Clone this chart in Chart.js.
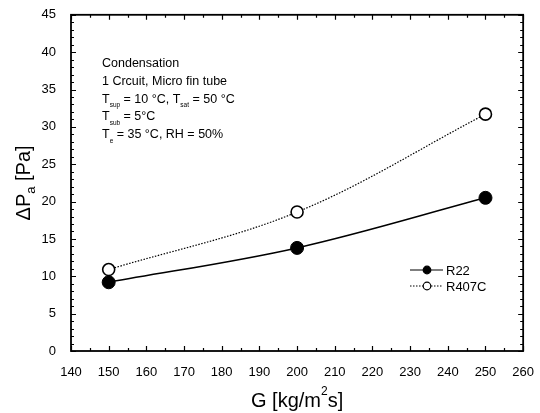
<!DOCTYPE html>
<html>
<head>
<meta charset="utf-8">
<script src="https://cdn.jsdelivr.net/npm/chart.js@4/dist/chart.umd.min.js"></script>
<style>
  html, body { margin: 0; padding: 0; background: #fff; }
  #wrap { width: 540px; height: 413px; }
</style>
</head>
<body>
<div id="wrap"><canvas id="dpChart" width="540" height="413"></canvas></div>
<script>
// mass flux G [kg/m2s]
const massFlux = [150, 200, 250];
// air-side pressure drop [Pa]
const dpR22 = [9.2, 13.8, 20.5];
const dpR407C = [10.9, 18.6, 31.7];

const xTicks = { min: 140, max: 260, step: 10, minor: 5 };
const yTicks = { min: 0, max: 45, step: 5, minor: 1 };

const noteLines = [
    [['Condensation']],
    [['1 Crcuit, Micro fin tube']],
    [['T'], ['sup', 1], [' = 10 °C, T'], ['sat', 1], [' = 50 °C']],
    [['T'], ['sub', 1], [' = 5°C']],
    [['T'], ['e', 1], [' = 35 °C, RH = 50%']],
];

const FONT = 'Arial, "Liberation Sans", sans-serif';

function toPoints(xs, ys) {
    return xs.map((x, i) => ({ x: x, y: ys[i] }));
}

// draws a run of text pieces, pieces flagged 1 are subscripts, 2 superscripts
function drawRich(ctx, x, y, parts, size, subSize) {
    let cx = x;
    parts.forEach(p => {
        const small = p[1];
        ctx.font = (small ? subSize : size) + 'px ' + FONT;
        let dy = 0;
        if (small === 1) dy = size * 0.35;
        if (small === 2) dy = -size * 0.45;
        ctx.fillText(p[0], cx, y + dy);
        cx += ctx.measureText(p[0]).width;
    });
    return cx - x;
}

function richWidth(ctx, parts, size, subSize) {
    let w = 0;
    parts.forEach(p => {
        ctx.font = (p[1] ? subSize : size) + 'px ' + FONT;
        w += ctx.measureText(p[0]).width;
    });
    return w;
}

const framePlugin = {
    id: 'frame',
    afterDraw(chart) {
        const ctx = chart.ctx;
        const a = chart.chartArea;
        const xs = chart.scales.x;
        const ys = chart.scales.y;
        ctx.save();
        ctx.strokeStyle = '#000';
        ctx.fillStyle = '#000';

        // inward ticks on all four sides
        ctx.lineWidth = 1.2;
        ctx.beginPath();
        for (let v = xTicks.min; v <= xTicks.max; v += xTicks.minor) {
            const px = Math.round(xs.getPixelForValue(v)) + 0.5;
            const len = (v - xTicks.min) % xTicks.step === 0 ? 5 : 3;
            ctx.moveTo(px, a.bottom); ctx.lineTo(px, a.bottom - len);
            ctx.moveTo(px, a.top); ctx.lineTo(px, a.top + len);
        }
        for (let v = yTicks.min; v <= yTicks.max; v += yTicks.minor) {
            const py = Math.round(ys.getPixelForValue(v)) + 0.5;
            const len = (v - yTicks.min) % yTicks.step === 0 ? 5 : 3;
            ctx.moveTo(a.left, py); ctx.lineTo(a.left + len, py);
            ctx.moveTo(a.right, py); ctx.lineTo(a.right - len, py);
        }
        ctx.stroke();

        // plot frame
        ctx.lineWidth = 1.8;
        ctx.strokeRect(a.left, a.top, a.right - a.left, a.bottom - a.top);

        // condition notes
        ctx.textBaseline = 'alphabetic';
        ctx.textAlign = 'left';
        noteLines.forEach((line, i) => {
            drawRich(ctx, 102, 67 + i * 17.8, line, 12.5, 6.5);
        });

        // legend
        const legend = [
            { label: 'R22', y: 270, fill: '#000', dash: [] },
            { label: 'R407C', y: 286, fill: '#fff', dash: [1.5, 1.5] },
        ];
        legend.forEach(item => {
            ctx.lineWidth = 1.2;
            ctx.setLineDash(item.dash);
            ctx.beginPath();
            ctx.moveTo(410, item.y); ctx.lineTo(443, item.y);
            ctx.stroke();
            ctx.setLineDash([]);
            ctx.beginPath();
            ctx.arc(427, item.y, 3.8, 0, Math.PI * 2);
            ctx.fillStyle = item.fill;
            ctx.fill();
            ctx.lineWidth = 1.2;
            ctx.stroke();
            ctx.fillStyle = '#000';
            ctx.font = '13px ' + FONT;
            ctx.textBaseline = 'middle';
            ctx.fillText(item.label, 446, item.y + 1);
        });

        // axis titles
        ctx.textBaseline = 'middle';
        const xTitle = [['G [kg/m'], ['2', 2], ['s]']];
        const xw = richWidth(ctx, xTitle, 20, 12);
        drawRich(ctx, (a.left + a.right) / 2 - xw / 2, 401, xTitle, 20, 12);

        const yTitle = [['ΔP'], ['a', 1], [' [Pa]']];
        const yw = richWidth(ctx, yTitle, 20, 13);
        ctx.translate(24, (a.top + a.bottom) / 2);
        ctx.rotate(-Math.PI / 2);
        drawRich(ctx, -yw / 2, 0, yTitle, 20, 13);
        ctx.restore();
    }
};

const ctx = document.getElementById('dpChart').getContext('2d');
const dpChart = new Chart(ctx, {
    type: 'line',
    data: {
        datasets: [
            {
                label: 'R22',
                data: toPoints(massFlux, dpR22),
                borderColor: '#000',
                borderWidth: 1.5,
                pointRadius: 6.5,
                pointBackgroundColor: '#000',
                pointBorderColor: '#000',
                pointBorderWidth: 1,
                tension: 0.35,
            },
            {
                label: 'R407C',
                data: toPoints(massFlux, dpR407C),
                borderColor: '#000',
                borderWidth: 1.2,
                borderDash: [1.5, 1.5],
                pointRadius: 6,
                pointBackgroundColor: '#fff',
                pointBorderColor: '#000',
                pointBorderWidth: 1.6,
                tension: 0.35,
            },
        ],
    },
    options: {
        responsive: false,
        animation: false,
        events: [],
        layout: { padding: { top: 14, right: 15, left: 0, bottom: 0 } },
        plugins: {
            legend: { display: false },
            tooltip: { enabled: false },
        },
        scales: {
            x: {
                type: 'linear',
                min: xTicks.min,
                max: xTicks.max,
                grid: { display: false },
                border: { display: false },
                ticks: {
                    stepSize: xTicks.step,
                    padding: 6,
                    color: '#000',
                    font: { family: FONT, size: 13 },
                    maxRotation: 0,
                },
                afterFit(scale) { scale.height = 62; },
            },
            y: {
                type: 'linear',
                min: yTicks.min,
                max: yTicks.max,
                grid: { display: false },
                border: { display: false },
                ticks: {
                    stepSize: yTicks.step,
                    padding: 7,
                    color: '#000',
                    font: { family: FONT, size: 13 },
                },
                afterFit(scale) { scale.width = 71; },
            },
        },
    },
    plugins: [framePlugin],
});
</script>
</body>
</html>
